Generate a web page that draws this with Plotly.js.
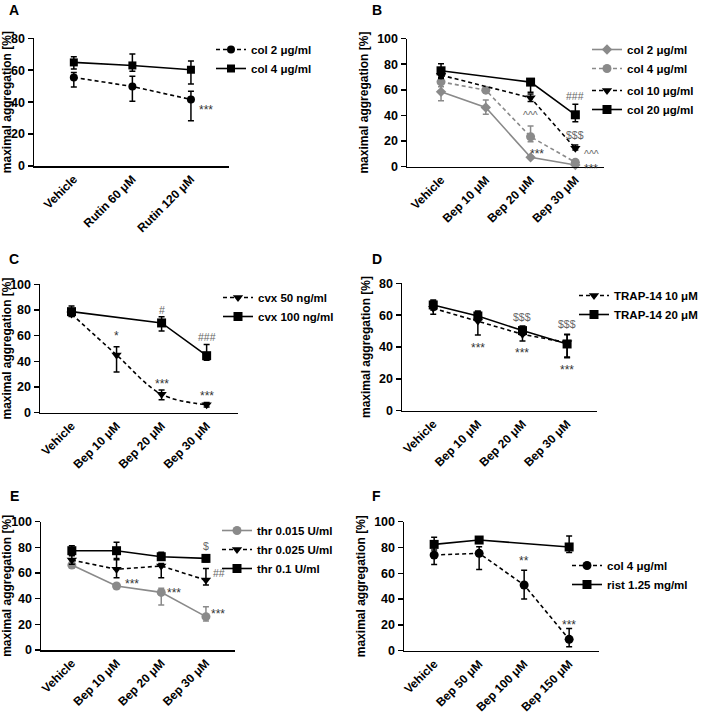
<!DOCTYPE html>
<html>
<head>
<meta charset="utf-8">
<script src="https://cdn.plot.ly/plotly-3.0.1.min.js"></script>
<style>html,body{margin:0;padding:0;background:#fff;}#chart{width:709px;height:713px;}</style>
</head>
<body>
<div id="chart"></div>
<script>
// ---------- DATA ----------
const catsA = ['Vehicle', 'Rutin 60 μM', 'Rutin 120 μM'];
const catsBep = ['Vehicle', 'Bep 10 μM', 'Bep 20 μM', 'Bep 30 μM'];
const catsF = ['Vehicle', 'Bep 50 μM', 'Bep 100 μM', 'Bep 150 μM'];

// Panel A
const aCol2 = [55.5, 49.8, 41.7];   const aCol2Up = [3, 6.5, 5.2];   const aCol2Dn = [6, 9.2, 13.4];
const aCol4 = [64.9, 63.0, 60.3];   const aCol4Up = [3.6, 7.2, 5.5]; const aCol4Dn = [4.2, 3.7, 9.0];

// Panel B
const bCol2 = [58.4, 46.2, 7.3, 1.3];   const bCol2Up = [6.6, 5.8, 1.0, 0.8];  const bCol2Dn = [7.0, 5.2, 1.0, 0.8];
const bCol4 = [66.2, 59.7, 23.4, 3.4];  const bCol4Up = [4.0, 1.5, 8.3, 1.5];  const bCol4Dn = [3.9, 1.5, 3.9, 1.5];
const bCol10 = [71.4, null, 53.8, 14.3]; const bCol10Up = [2.6, null, 3.0, 2.6]; const bCol10Dn = [2.6, null, 3.0, 1.3];
const bCol20 = [74.8, null, 66.0, 40.5]; const bCol20Up = [5.5, null, 2.0, 8.3]; const bCol20Dn = [5.2, null, 8.0, 5.5];

// Panel C
const cCvx50 = [76.9, 45.0, 14.3, 6.2];   const cCvx50Up = [2.0, 6.4, 3.4, 1.8];   const cCvx50Dn = [2.0, 13.3, 4.2, 1.8];
const cCvx100 = [78.7, null, 69.9, 44.4]; const cCvx100Up = [4.4, null, 4.9, 8.8]; const cCvx100Dn = [3.1, null, 6.3, 3.6];

// Panel D
const dTrap10 = [64.3, 56.3, 48.0, 42.7]; const dTrap10Up = [4.6, 5.9, 3.7, 5.0]; const dTrap10Dn = [3.8, 8.8, 4.2, 9.0];
const dTrap20 = [66.4, 59.5, 50.3, 41.9]; const dTrap20Up = [3.1, 3.1, 2.9, 6.1]; const dTrap20Dn = [3.2, 2.5, 2.8, 8.6];

// Panel E
const eThr015 = [66.2, 49.9, 44.9, 26.0]; const eThr015Up = [2.1, 1.8, 3.2, 7.8]; const eThr015Dn = [2.0, 1.8, 9.8, 3.4];
const eThr025 = [70.1, 62.9, 65.5, 54.5]; const eThr025Up = [3.9, 8.5, 2.0, 9.1]; const eThr025Dn = [3.3, 6.5, 9.1, 3.9];
const eThr01 = [77.4, 77.4, 72.7, 71.4];  const eThr01Up = [3.9, 6.5, 3.4, 2.6];  const eThr01Dn = [3.9, 7.0, 2.6, 2.6];

// Panel F
const fCol4 = [74.2, 75.5, 50.9, 8.8];   const fCol4Up = [6.4, 5.0, 11.4, 8.5]; const fCol4Dn = [7.3, 12.5, 10.9, 5.7];
const fRist = [82.4, 85.8, null, 80.4];  const fRistUp = [5.5, 1.8, null, 8.5]; const fRistDn = [4.4, 1.8, null, 4.2];

// Significance labels: [text, category position, y value]
const sigA = [['***', 2.25, 37]];
const sigB = [['###', 3, 55], ['^^^', 2, 40], ['$$$', 3, 25], ['***', 2.15, 12], ['^^^', 3.36, 10], ['***', 3.36, 0.5]];
const sigC = [['*', 1, 62], ['#', 2, 80], ['###', 3, 59], ['***', 2, 25], ['***', 3, 15]];
const sigD = [['$$$', 2, 59], ['$$$', 3, 54.2], ['***', 1, 41.3], ['***', 2, 38.1], ['***', 3, 27.6]];
const sigE = [['$', 3, 81.3], ['##', 3.3, 59.7], ['***', 1.34, 53.8], ['***', 2.28, 46.8], ['***', 3.27, 30.4]];
const sigF = [['**', 2, 72], ['***', 3, 22.5]];

// ---------- STYLE ----------
const FONT = 'Arial, "Liberation Sans", sans-serif';
const W = 709, H = 713;
const GREY = '#8a8a8a';
const SHORTDASH = '4px,3px';

function tr(n, cats, name, y, up, dn, st) {
  const sfx = n === 1 ? '' : String(n);
  return {
    type: 'scatter', mode: 'lines+markers', name: name,
    x: cats, y: y,
    xaxis: 'x' + sfx, yaxis: 'y' + sfx,
    legend: st.legend || ('legend' + sfx),
    connectgaps: true, cliponaxis: false,
    line: {color: st.color, width: 1.6, dash: st.dash || 'solid', shape: st.shape || 'linear', smoothing: 1},
    marker: {symbol: st.symbol, size: st.size || 8, color: st.color},
    error_y: {type: 'data', symmetric: false, array: up, arrayminus: dn, color: st.color, thickness: 1.5, width: 3},
    hoverinfo: 'skip'
  };
}

const K = '#000';
const data = [
  tr(1, catsA, 'col 2 μg/ml', aCol2, aCol2Up, aCol2Dn, {color: K, dash: SHORTDASH, symbol: 'circle', size: 8}),
  tr(1, catsA, 'col 4 μg/ml', aCol4, aCol4Up, aCol4Dn, {color: K, symbol: 'square', size: 8}),

  tr(2, catsBep, 'col 2 μg/ml', bCol2, bCol2Up, bCol2Dn, {color: GREY, symbol: 'diamond', size: 8}),
  tr(2, catsBep, 'col 4 μg/ml', bCol4, bCol4Up, bCol4Dn, {color: GREY, dash: SHORTDASH, symbol: 'circle', size: 9}),
  tr(2, catsBep, 'col 10 μg/ml', bCol10, bCol10Up, bCol10Dn, {color: K, dash: SHORTDASH, symbol: 'triangle-down', size: 9, legend: 'legend7'}),
  tr(2, catsBep, 'col 20 μg/ml', bCol20, bCol20Up, bCol20Dn, {color: K, symbol: 'square', size: 9, legend: 'legend7'}),

  tr(3, catsBep, 'cvx 50 ng/ml', cCvx50, cCvx50Up, cCvx50Dn, {color: K, dash: SHORTDASH, symbol: 'triangle-down', size: 9, shape: 'spline'}),
  tr(3, catsBep, 'cvx 100 ng/ml', cCvx100, cCvx100Up, cCvx100Dn, {color: K, symbol: 'square', size: 9}),

  tr(4, catsBep, 'TRAP-14 10 μM', dTrap10, dTrap10Up, dTrap10Dn, {color: K, dash: SHORTDASH, symbol: 'triangle-down', size: 9}),
  tr(4, catsBep, 'TRAP-14 20 μM', dTrap20, dTrap20Up, dTrap20Dn, {color: K, symbol: 'square', size: 9}),

  tr(5, catsBep, 'thr 0.015 U/ml', eThr015, eThr015Up, eThr015Dn, {color: GREY, symbol: 'circle', size: 9}),
  tr(5, catsBep, 'thr 0.025 U/ml', eThr025, eThr025Up, eThr025Dn, {color: K, dash: SHORTDASH, symbol: 'triangle-down', size: 9}),
  tr(5, catsBep, 'thr 0.1 U/ml', eThr01, eThr01Up, eThr01Dn, {color: K, symbol: 'square', size: 9}),

  tr(6, catsF, 'col 4 μg/ml', fCol4, fCol4Up, fCol4Dn, {color: K, dash: SHORTDASH, symbol: 'circle', size: 9}),
  tr(6, catsF, 'rist 1.25 mg/ml', fRist, fRistUp, fRistDn, {color: K, symbol: 'square', size: 9})
];

// panel geometry in pixels: x-domain [left,right], y [top,bottom]
const panels = [
  {cats: catsA,   xd: [34, 229],   yd: [38.3, 166],  xr: [-0.68, 2.65], yr: [0, 80],  leg: [211, 35],  letter: ['A', 7, 0],   sig: sigA},
  {cats: catsBep, xd: [407, 604],  yd: [38.5, 166.7], xr: [-0.76, 3.64], yr: [0, 100], leg: [587, 35],  letter: ['B', 370, 0], sig: sigB},
  {cats: catsBep, xd: [40, 237.7], yd: [284.3, 412.7], xr: [-0.70, 3.69], yr: [0, 100], leg: [218, 283], letter: ['C', 7, 249], sig: sigC},
  {cats: catsBep, xd: [402, 597],  yd: [283.3, 410.7], xr: [-0.70, 3.67], yr: [0, 80],  leg: [574, 281], letter: ['D', 370, 249], sig: sigD},
  {cats: catsBep, xd: [41, 235],   yd: [521.7, 650],  xr: [-0.69, 3.65], yr: [0, 100], leg: [217, 516], letter: ['E', 8, 486], sig: sigE},
  {cats: catsF,   xd: [404, 599.3], yd: [521.7, 650.7], xr: [-0.67, 3.67], yr: [0, 100], leg: [567, 551], letter: ['F', 370, 486], sig: sigF}
];

const xTickFont = {family: FONT, size: 12, color: '#000', weight: 700};
const yTickFont = {family: FONT, size: 12.5, color: '#000', weight: 700};
const legFont = {family: FONT, size: 11.5, color: '#000', weight: 700};
const layout = {
  width: W, height: H,
  margin: {l: 0, r: 0, t: 0, b: 0},
  paper_bgcolor: '#fff', plot_bgcolor: 'rgba(0,0,0,0)',
  font: {family: FONT, color: '#000'},
  annotations: [],
  showlegend: true
};

function legendBox(px, py) {
  return {
    x: px / W, y: 1 - py / H, xanchor: 'left', yanchor: 'top',
    bgcolor: 'rgba(0,0,0,0)', borderwidth: 0, font: legFont,
    tracegroupgap: 0, itemclick: false, itemdoubleclick: false
  };
}

panels.forEach((p, i) => {
  const n = i + 1, sfx = n === 1 ? '' : String(n);
  layout['xaxis' + sfx] = {
    domain: [p.xd[0] / W, p.xd[1] / W], anchor: 'y' + sfx,
    type: 'category', categoryarray: p.cats, range: p.xr,
    showline: true, linecolor: '#000', linewidth: 1.5,
    ticks: '', tickangle: -45, tickfont: xTickFont,
    showgrid: false, zeroline: false, fixedrange: true
  };
  layout['yaxis' + sfx] = {
    domain: [1 - p.yd[1] / H, 1 - p.yd[0] / H], anchor: 'x' + sfx,
    range: p.yr, tick0: 0, dtick: 20,
    showline: true, linecolor: '#000', linewidth: 1.5,
    ticks: 'outside', ticklen: 5, tickwidth: 1.5, tickcolor: '#000',
    tickfont: yTickFont, showgrid: false, zeroline: false, fixedrange: true,
    title: {text: 'maximal aggregation [%]', font: {family: FONT, size: 12, color: '#000', weight: 700}, standoff: 6}
  };
  layout['legend' + sfx] = legendBox(p.leg[0], p.leg[1]);
  layout.annotations.push({
    xref: 'paper', yref: 'paper', x: p.letter[1] / W, y: 1 - p.letter[2] / H,
    xanchor: 'left', yanchor: 'top', showarrow: false, text: p.letter[0],
    font: {family: FONT, size: 14, color: '#000', weight: 700}
  });
  p.sig.forEach(s => {
    const star = s[0].indexOf('*') >= 0;
    layout.annotations.push({
      xref: 'x' + sfx, yref: 'y' + sfx, x: s[1], y: s[2],
      xanchor: 'center', yanchor: 'middle', showarrow: false, text: s[0],
      yshift: star ? -3 : 0,
      font: {family: FONT, size: star ? 12 : 10.5, color: star ? '#333' : '#666'}
    });
  });
});
// second half of panel B legend (slightly wider row spacing as in the reference)
layout.legend7 = legendBox(587, 76);

Plotly.newPlot('chart', data, layout, {displayModeBar: false, staticPlot: true});
</script>
</body>
</html>
